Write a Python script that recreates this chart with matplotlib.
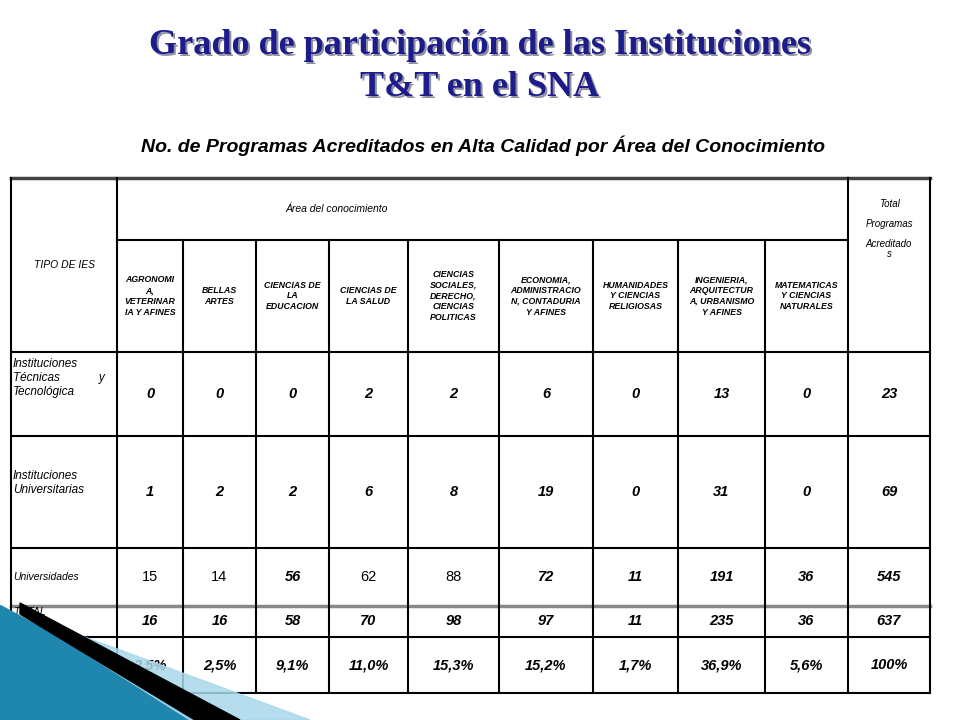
import matplotlib

matplotlib.use("Agg")
import matplotlib.pyplot as plt
from matplotlib.patches import Polygon

areas = [
    "AGRONOMI\nA,\nVETERINAR\nIA Y AFINES",
    "BELLAS\nARTES",
    "CIENCIAS DE\nLA\nEDUCACION",
    "CIENCIAS DE\nLA SALUD",
    "CIENCIAS\nSOCIALES,\nDERECHO,\nCIENCIAS\nPOLITICAS",
    "ECONOMIA,\nADMINISTRACIO\nN, CONTADURIA\nY AFINES",
    "HUMANIDADES\nY CIENCIAS\nRELIGIOSAS",
    "INGENIERIA,\nARQUITECTUR\nA, URBANISMO\nY AFINES",
    "MATEMATICAS\nY CIENCIAS\nNATURALES",
]
row_labels = [
    "Instituciones\nTécnicas            y\nTecnológica",
    "Instituciones\nUniversitarias",
    "Universidades",
    "TOTAL",
    "Porcentaje (%)",
]
tecnicas = [0, 0, 0, 2, 2, 6, 0, 13, 0, 23]
universitarias = [1, 2, 2, 6, 8, 19, 0, 31, 0, 69]
universidades = [15, 14, 56, 62, 88, 72, 11, 191, 36, 545]
universidades_bold = [False, False, True, False, False, True, True, True, True, True]
totales = [16, 16, 58, 70, 98, 97, 11, 235, 36, 637]
porcentajes = ["2,5%", "2,5%", "9,1%", "11,0%", "15,3%", "15,2%", "1,7%", "36,9%", "5,6%", "100%"]

col_x = [11, 117, 183, 256, 329, 408, 499, 593, 678, 765, 848, 930]
row_y = [178, 240, 352, 436, 548, 606, 637, 693]

fig = plt.figure(figsize=(9.6, 7.2), dpi=100)
ax = fig.add_axes([0, 0, 1, 1])
ax.set_xlim(0, 960)
ax.set_ylim(720, 0)
ax.axis("off")

font = "Liberation Sans"
for txt, y in [("Grado de participación de las Instituciones", 45), ("T&T en el SNA", 88)]:
    ax.text(482, y + 2, txt, ha="center", va="center", fontsize=26, fontweight="bold",
            family="Liberation Serif", color="#9090a0")
    ax.text(480, y, txt, ha="center", va="center", fontsize=26, fontweight="bold",
            family="Liberation Serif", color="#1c1c8a")
ax.text(483, 146, "No. de Programas Acreditados en Alta Calidad por Área del Conocimiento", ha="center",
        va="center", fontsize=14, fontweight="bold", style="italic", family=font)

# grid lines
lw = 1.5
ax.plot([col_x[0], col_x[-1]], [row_y[0]] * 2, color="#444", lw=2.5)
for y in row_y[2:]:
    c = "#888" if y == row_y[5] else "black"
    ax.plot([col_x[0], col_x[-1]], [y, y], color=c, lw=2.5 if y == row_y[5] else lw)
ax.plot([col_x[1], col_x[-2]], [row_y[1]] * 2, color="black", lw=lw)
for i, x in enumerate(col_x):
    top = row_y[1] if 2 <= i <= 9 else row_y[0]
    ax.plot([x, x], [top, row_y[-1]], color="black", lw=lw)

ax.text(64, 265, "TIPO DE IES", ha="center", va="center", fontsize=7.5, style="italic", family=font)
ax.text(337, 209, "Área del conocimiento", ha="center", va="center", fontsize=7.5, style="italic", family=font)
ax.text(889, 229, "Total\n\nProgramas\n\nAcreditado\ns", ha="center", va="center", fontsize=7,
        style="italic", family=font, linespacing=1.0)

for i, name in enumerate(areas):
    xc = (col_x[i + 1] + col_x[i + 2]) / 2
    ax.text(xc, 296, name, ha="center", va="center", fontsize=6.3, style="italic", fontweight="bold",
            family=font, linespacing=1.25)

label_y = [378, 483, 577, 612, 648]
for lab, y in zip(row_labels, label_y):
    va = "top" if lab in ("TOTAL", "Porcentaje (%)") else "center"
    ax.text(13, y - 5 if va == "top" else y, lab, ha="left", va=va, fontsize=8.5 if "\n" in lab else 7.5,
            style="italic", family=font, linespacing=1.2)

rows = [tecnicas, universitarias, universidades, totales, porcentajes]
value_y = [394, 492, 577, 621, 665]
for r, (vals, y) in enumerate(zip(rows, value_y)):
    for j, v in enumerate(vals):
        xc = (col_x[j + 1] + col_x[j + 2]) / 2
        bold = universidades_bold[j] if r == 2 else True
        ax.text(xc, y, str(v), ha="center", va="center", fontsize=10.5, family=font,
                style="italic" if bold else "normal", fontweight="bold" if bold else "normal")

# decorative wedge bottom-left
ax.add_patch(Polygon([(0, 605), (0, 720), (210, 720)], closed=True, color="#1f86ad", zorder=5))
ax.add_patch(Polygon([(25, 615), (310, 720), (190, 720)], closed=True, color="#a8d8ea", alpha=0.85, zorder=5))
ax.add_patch(Polygon([(20, 603), (240, 720), (195, 720), (20, 614)], closed=True, color="black", zorder=6))

fig.savefig("out.png", dpi=100)
plt.close(fig)
